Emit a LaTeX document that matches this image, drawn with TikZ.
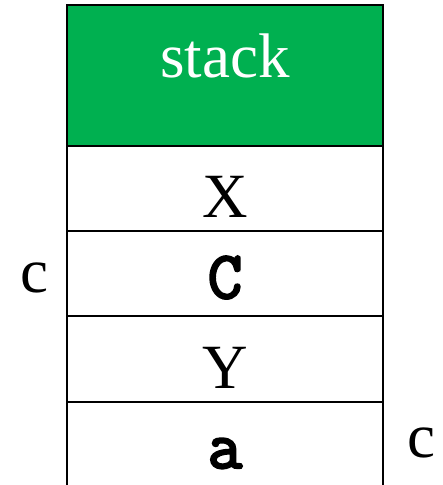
\documentclass[tikz,border=0pt]{standalone}
\usepackage{fontspec}
\setmainfont{Liberation Serif}
\setmonofont{Latin Modern Mono}[AutoFakeBold=3.5]
\definecolor{stackgreen}{RGB}{0,176,80}
\tikzset{
  cell/.style={draw=black,line width=2.2pt},
  lbl/.style={anchor=base,inner sep=0pt,font=\fontsize{63}{70}\selectfont},
  code/.style={anchor=base,inner sep=0pt,font=\fontsize{67}{74}\selectfont\ttfamily\bfseries}
}
\begin{document}
\begin{tikzpicture}[x=1pt,y=-1pt]
	\useasboundingbox (0,0) rectangle (443,485);
	\fill[stackgreen] (67,5) rectangle (383,146);
	\draw[cell] (67,5) rectangle (383,146);
	\draw[cell] (67,146) rectangle (383,231);
	\draw[cell] (67,231) rectangle (383,316);
	\draw[cell] (67,316) rectangle (383,402);
	\draw[cell] (67,495) -- (67,402) -- (383,402) -- (383,495);
	\node[lbl,text=white] (head) at (225,77) {stack};
	\node[lbl] (x) at (225,217) {X};
	\node[code] (cc) at (225,298) {C};
	\node[lbl] (y) at (225,388) {Y};
	\node[code] (a) at (225,468) {a};
	\node[lbl] (cl) at (34,292) {c};
	\node[lbl] (cr) at (421,457) {c};
\end{tikzpicture}
\end{document}
